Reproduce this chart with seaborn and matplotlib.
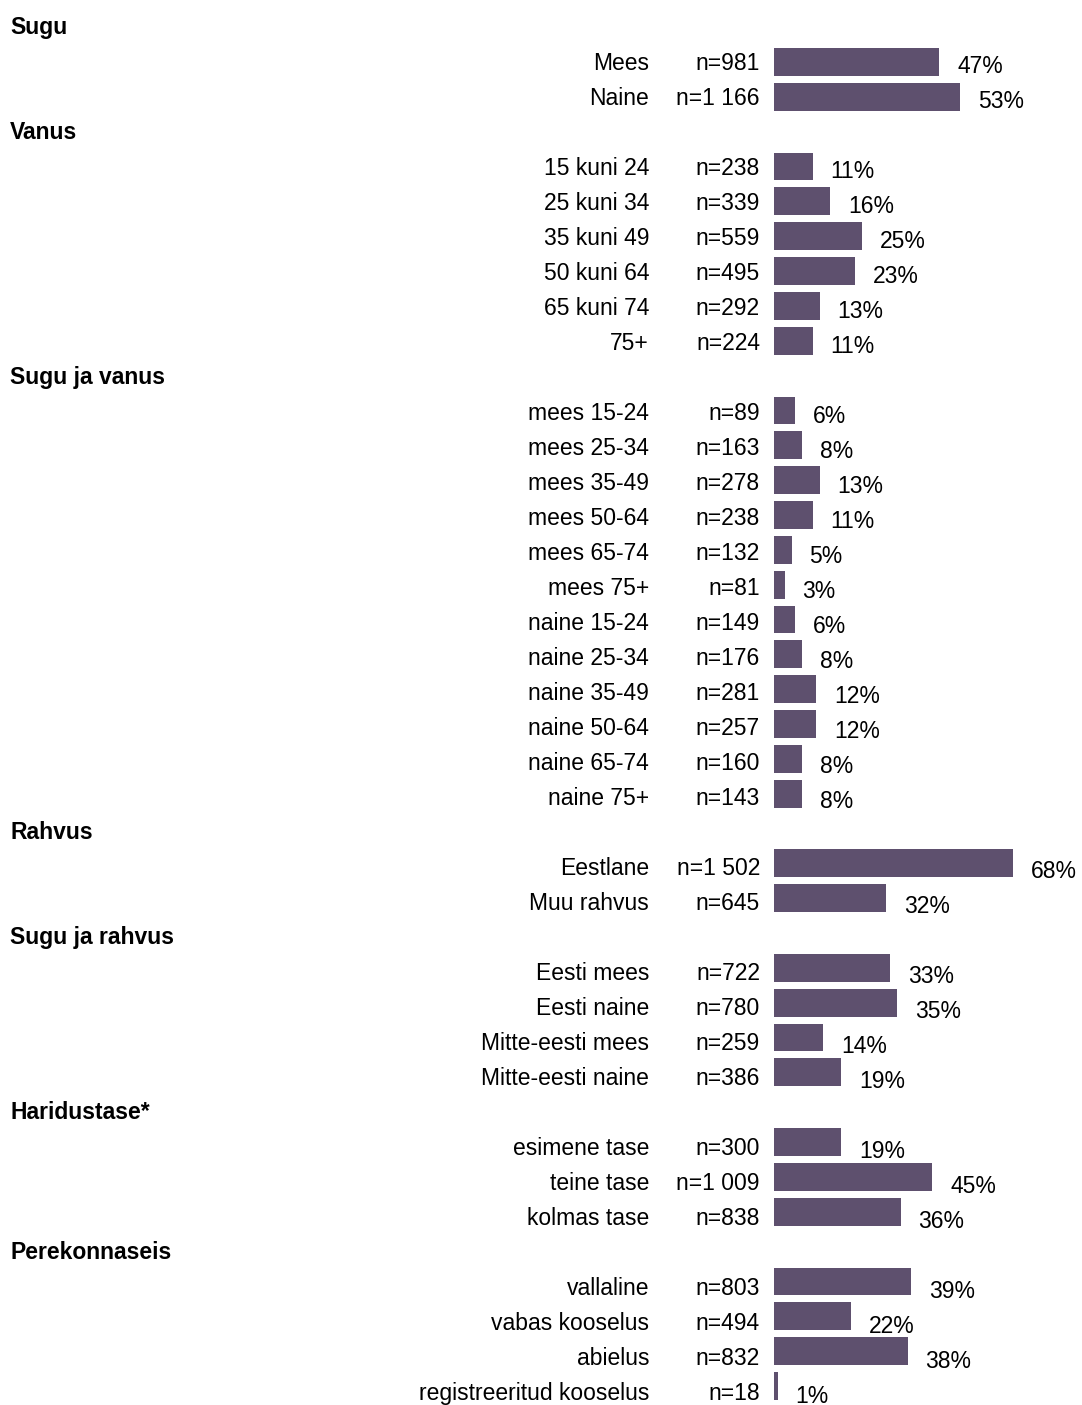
import matplotlib
matplotlib.use("Agg")
import matplotlib.pyplot as plt
import matplotlib.transforms as mtransforms
import seaborn as sns
import pandas as pd

# Rühmad ja nende read (kategooria, valimi suurus, osakaal %)
groups = ["Sugu", "Vanus", "Sugu ja vanus", "Rahvus", "Sugu ja rahvus",
          "Haridustase*", "Perekonnaseis"]

labels = [
    ["Mees", "Naine"],
    ["15 kuni 24", "25 kuni 34", "35 kuni 49", "50 kuni 64", "65 kuni 74", "75+"],
    ["mees 15-24", "mees 25-34", "mees 35-49", "mees 50-64", "mees 65-74", "mees 75+",
     "naine 15-24", "naine 25-34", "naine 35-49", "naine 50-64", "naine 65-74", "naine 75+"],
    ["Eestlane", "Muu rahvus"],
    ["Eesti mees", "Eesti naine", "Mitte-eesti mees", "Mitte-eesti naine"],
    ["esimene tase", "teine tase", "kolmas tase"],
    ["vallaline", "vabas kooselus", "abielus", "registreeritud kooselus"],
]

n_values = [
    ["n=981", "n=1 166"],
    ["n=238", "n=339", "n=559", "n=495", "n=292", "n=224"],
    ["n=89", "n=163", "n=278", "n=238", "n=132", "n=81",
     "n=149", "n=176", "n=281", "n=257", "n=160", "n=143"],
    ["n=1 502", "n=645"],
    ["n=722", "n=780", "n=259", "n=386"],
    ["n=300", "n=1 009", "n=838"],
    ["n=803", "n=494", "n=832", "n=18"],
]

pct = [
    [47, 53],
    [11, 16, 25, 23, 13, 11],
    [6, 8, 13, 11, 5, 3, 6, 8, 12, 12, 8, 8],
    [68, 32],
    [33, 35, 14, 19],
    [19, 45, 36],
    [39, 22, 38, 1],
]

# tabel: päised jäävad tühjaks reaks
order, rows, headers = [], [], []
for g, labs, ns, ps in zip(groups, labels, n_values, pct):
    headers.append((len(order), g))
    order.append("#" + g)
    for lab, n, p in zip(labs, ns, ps):
        order.append(lab)
        rows.append({"label": lab, "n": n, "pct": p, "pos": len(order) - 1})
df = pd.DataFrame(rows)

sns.set_style("white")
plt.rcParams["font.family"] = ["Liberation Sans", "DejaVu Sans"]

W, H = 1082, 1405
fig = plt.figure(figsize=(W / 100, H / 100), dpi=100)
x0 = 774 / W
ax = fig.add_axes([x0, 0, 1 - x0, 1])

sns.barplot(data=df, x="pct", y="label", order=order, color="#5e506e",
            saturation=1, width=0.8, linewidth=0, orient="h", ax=ax)

px_per_pct = 3.515
row_h = 34.84
ax.set_xlim(0, (W - 774) / px_per_pct)
ax.set_ylim((H - 27.2) / row_h, -27.2 / row_h)
ax.axis("off")

# tekstiread on veidi hõredamad kui tulbad (35 px)
text_step = 35 / row_h
fs = 16.5
trans = mtransforms.blended_transform_factory(fig.transFigure, ax.transData)
for pos, g in headers:
    ax.text(10 / W, pos * text_step, g, transform=trans, ha="left", va="center",
            fontsize=fs, fontweight="bold", color="black")
for _, r in df.iterrows():
    y = r["pos"] * text_step + 0.03
    ax.text(649 / W, y, r["label"], transform=trans, ha="right", va="center",
            fontsize=fs, color="black")
    ax.text(760 / W, y, r["n"], transform=trans, ha="right", va="center",
            fontsize=fs, color="black")
    ax.text(r["pct"] + 18 / px_per_pct, y + 0.08, f"{r['pct']}%", ha="left",
            va="center", fontsize=fs, color="black", clip_on=False)

fig.savefig("out.png", dpi=100)
